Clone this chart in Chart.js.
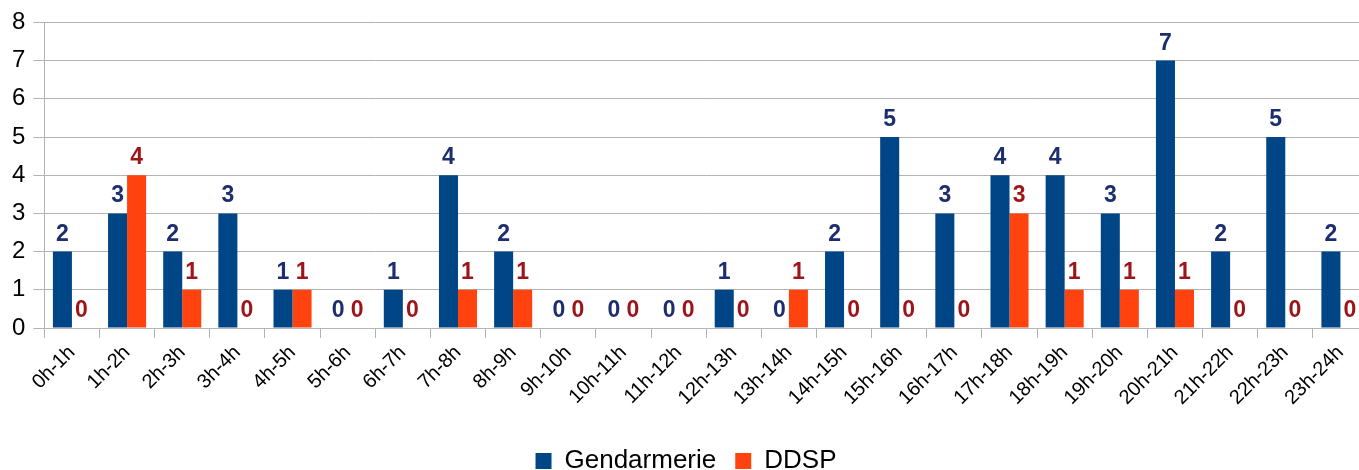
<!DOCTYPE html>
<html>
<head>
<meta charset="utf-8">
<script src="https://cdn.jsdelivr.net/npm/chart.js@4/dist/chart.umd.min.js"></script>
<style>
  html, body { margin: 0; padding: 0; overflow: hidden; background: #fff; }
  #wrap { width: 1372px; height: 470px; }
</style>
</head>
<body>
<div id="wrap"><canvas id="myBarChart"></canvas></div>
<script>
const hours = ['0h-1h', '1h-2h', '2h-3h', '3h-4h', '4h-5h', '5h-6h', '6h-7h', '7h-8h', '8h-9h', '9h-10h',
  '10h-11h', '11h-12h', '12h-13h', '13h-14h', '14h-15h', '15h-16h', '16h-17h', '17h-18h', '18h-19h',
  '19h-20h', '20h-21h', '21h-22h', '22h-23h', '23h-24h'];
const gendarmerie = [2, 3, 2, 3, 1, 0, 1, 4, 2, 0, 0, 0, 1, 0, 2, 5, 3, 4, 4, 3, 7, 2, 5, 2];
const ddsp = [0, 4, 1, 0, 1, 0, 0, 1, 1, 0, 0, 0, 0, 1, 0, 0, 0, 3, 1, 1, 1, 0, 0, 0];
const yTicks = [0, 1, 2, 3, 4, 5, 6, 7, 8];

const labelColors = ['#1c2e6e', '#9e1419'];
const fontFam = '"Liberation Sans", Arial, sans-serif';

// draw the value above each bar
const valueLabels = {
  id: 'valueLabels',
  afterDatasetsDraw(chart) {
    const c = chart.ctx;
    c.save();
    c.font = 'bold 23px ' + fontFam;
    c.textAlign = 'center';
    c.textBaseline = 'alphabetic';
    chart.data.datasets.forEach((ds, i) => {
      c.fillStyle = labelColors[i];
      chart.getDatasetMeta(i).data.forEach((bar, j) => {
        c.fillText(String(ds.data[j]), bar.x, bar.y - 11);
      });
    });
    c.restore();
  }
};

new Chart(document.getElementById('myBarChart'), {
  type: 'bar',
  data: {
    labels: hours,
    datasets: [
      {
        label: 'Gendarmerie',
        data: gendarmerie,
        backgroundColor: '#004586',
        barPercentage: 1,
        categoryPercentage: 0.69
      },
      {
        label: 'DDSP',
        data: ddsp,
        backgroundColor: '#ff420e',
        barPercentage: 1,
        categoryPercentage: 0.69
      }
    ]
  },
  options: {
    responsive: true,
    maintainAspectRatio: false,
    animation: false,
    layout: { padding: { top: 21, left: 4, right: 4, bottom: -14 } },
    scales: {
      x: {
        grid: { display: true, drawOnChartArea: false, color: '#b3b3b3', tickLength: 10, offset: true },
        border: { color: '#b3b3b3' },
        ticks: {
          color: '#000',
          font: { family: fontFam, size: 20 },
          minRotation: 45,
          maxRotation: 45,
          autoSkip: false
        },
        afterFit(axis) {
          axis.height = 101;
          axis.paddingRight = 0;
          axis.paddingLeft = 0;
        }
      },
      y: {
        min: 0,
        max: 8,
        afterBuildTicks(axis) { axis.ticks = yTicks.map(v => ({ value: v })); },
        grid: { color: '#b3b3b3', tickLength: 11 },
        border: { color: '#b3b3b3' },
        ticks: {
          color: '#000',
          padding: 8,
          font: { family: fontFam, size: 24 }
        }
      }
    },
    plugins: {
      legend: {
        position: 'bottom',
        labels: {
          color: '#000',
          boxWidth: 16,
          boxHeight: 16,
          padding: 19,
          font: { family: fontFam, size: 26 }
        }
      },
      tooltip: { enabled: false }
    }
  },
  plugins: [valueLabels]
});
</script>
</body>
</html>
